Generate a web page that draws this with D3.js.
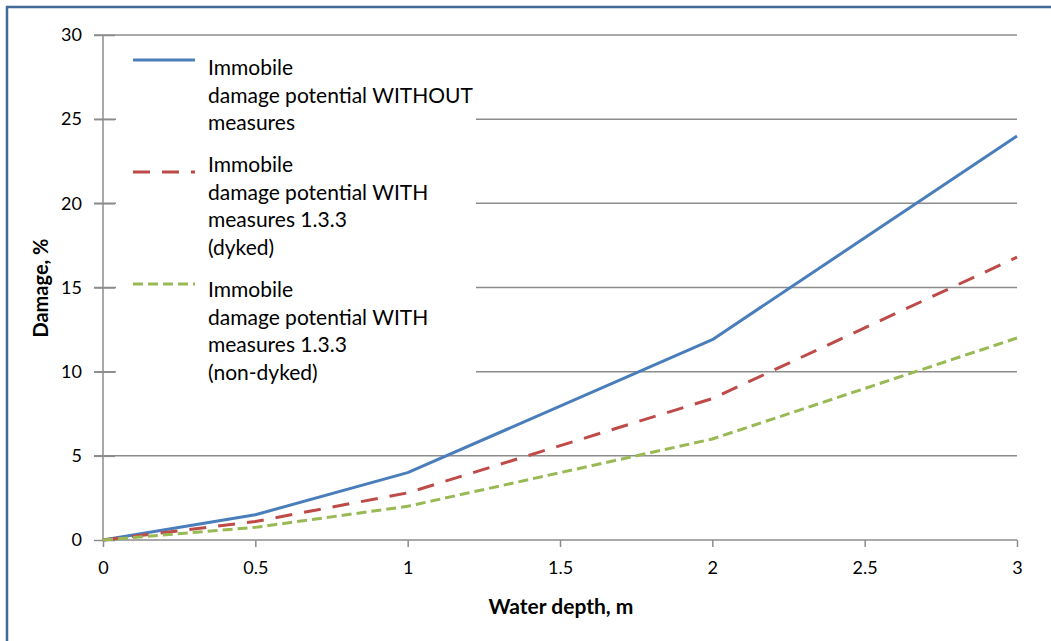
<!DOCTYPE html>
<html lang="en">
    <head>
        <meta charset="utf-8">
        <title>Damage vs water depth</title>
        <script type="text/javascript" src="https://cdn.jsdelivr.net/npm/d3@7"></script>
        <style type="text/css">
           body { margin: 0; background: #fff; }
           text {
               font-family: Lato, "Open Sans", sans-serif;
               fill: #000;
           }
        </style>
    </head>
    <body>
        <script type="text/javascript">

              var w = 1051;
              var h = 641;

              // data
              var depth = [0, 0.5, 1, 2, 3];
              var without = [0, 1.5, 4, 11.9, 24];
              var withDyked = [0, 1.1, 2.8, 8.4, 16.8];
              var withNonDyked = [0, 0.75, 2, 6, 12];

              var xTicks = [0, 0.5, 1, 1.5, 2, 2.5, 3];
              var yTicks = [0, 5, 10, 15, 20, 25, 30];

              var series = [
                  { values: without, color: "#4a7ebb", dash: null,
                    label: ["Immobile", "damage potential WITHOUT", "measures"],
                    sampleY: 60, textY: 66 },
                  { values: withDyked, color: "#be4b48", dash: "17,12",
                    label: ["Immobile", "damage potential WITH", "measures 1.3.3", "(dyked)"],
                    sampleY: 172, textY: 163 },
                  { values: withNonDyked, color: "#98b954", dash: "10,5",
                    label: ["Immobile", "damage potential WITH", "measures 1.3.3", "(non-dyked)"],
                    sampleY: 284, textY: 288 }
              ];

              var x = d3.scaleLinear().domain([0, 3]).range([103, 1017]);
              var y = d3.scaleLinear().domain([0, 30]).range([540, 35]);

              var svg = d3.select("body")
                          .append("svg")
                          .attr("width", w)
                          .attr("height", h);

              // outer frame (only left and top show in the picture)
              svg.append("rect")
                 .attr("x", 7).attr("y", 7)
                 .attr("width", 1060).attr("height", 660)
                 .attr("fill", "none")
                 .attr("stroke", "#41699a")
                 .attr("stroke-width", 2.5);

              // gridlines
              svg.selectAll("line.grid")
                 .data(yTicks.slice(1))
                 .enter()
                 .append("line")
                 .attr("class", "grid")
                 .attr("x1", 94).attr("x2", x(3))
                 .attr("y1", function(d) { return y(d); })
                 .attr("y2", function(d) { return y(d); })
                 .attr("stroke", "#8c8c8c")
                 .attr("stroke-width", 1.5);

              // y axis
              var yAxis = svg.append("g")
                 .attr("transform", "translate(" + x(0) + ",0)")
                 .call(d3.axisLeft(y).tickValues(yTicks).tickSize(9).tickPadding(12));
              yAxis.selectAll(".tick line").clone().attr("x2", 12);

              // x axis
              var xAxis = svg.append("g")
                 .attr("transform", "translate(0," + y(0) + ")")
                 .call(d3.axisBottom(x).tickValues(xTicks).tickSize(7).tickPadding(14)
                         .tickFormat(d3.format("")));

              [yAxis, xAxis].forEach(function(a) {
                  a.select(".domain").attr("stroke", "#8c8c8c").attr("stroke-width", 1.5);
                  a.selectAll(".tick line").attr("stroke", "#8c8c8c").attr("stroke-width", 1.5);
                  a.selectAll(".tick text")
                   .style("font-family", "Lato, sans-serif")
                   .style("font-size", "18px")
                   .attr("fill", "#000");
              });
              yAxis.select(".domain").attr("d", "M0," + y(30) + "V" + y(0));
              xAxis.select(".domain").attr("d", "M" + x(0) + ",0H" + x(3));

              // legend background hides the grid
              svg.append("rect")
                 .attr("x", 116).attr("y", 42)
                 .attr("width", 360).attr("height", 340)
                 .attr("fill", "#fff");

              // data lines
              var line = d3.line()
                           .x(function(d, i) { return x(depth[i]); })
                           .y(function(d) { return y(d); });

              svg.selectAll("path.series")
                 .data(series)
                 .enter()
                 .append("path")
                 .attr("class", "series")
                 .attr("d", function(d) { return line(d.values); })
                 .attr("fill", "none")
                 .attr("stroke", function(d) { return d.color; })
                 .attr("stroke-width", 3)
                 .attr("stroke-linejoin", "round")
                 .attr("stroke-dasharray", function(d) { return d.dash; });

              // legend
              var leg = svg.selectAll("g.legend")
                           .data(series)
                           .enter()
                           .append("g")
                           .attr("class", "legend");

              leg.append("line")
                 .attr("x1", 133).attr("x2", 195)
                 .attr("y1", function(d) { return d.sampleY; })
                 .attr("y2", function(d) { return d.sampleY; })
                 .attr("stroke", function(d) { return d.color; })
                 .attr("stroke-width", 3)
                 .attr("stroke-dasharray", function(d) { return d.dash; });

              leg.each(function(d) {
                  var t = d3.select(this).append("text")
                            .attr("x", 208)
                            .attr("y", d.textY)
                            .attr("dominant-baseline", "central")
                            .style("font-size", "21px");
                  d.label.forEach(function(s, i) {
                      t.append("tspan")
                       .attr("x", 208)
                       .attr("y", d.textY + i * 27.5)
                       .text(s);
                  });
              });

              // axis titles
              svg.append("text")
                 .attr("x", 561).attr("y", 605)
                 .attr("text-anchor", "middle")
                 .attr("dominant-baseline", "central")
                 .style("font-size", "21px")
                 .style("font-weight", "bold")
                 .text("Water depth, m");

              svg.append("text")
                 .attr("transform", "translate(40,288) rotate(-90)")
                 .attr("text-anchor", "middle")
                 .attr("dominant-baseline", "central")
                 .style("font-size", "20px")
                 .style("font-weight", "bold")
                 .text("Damage, %");

        </script>
    </body>
</html>
